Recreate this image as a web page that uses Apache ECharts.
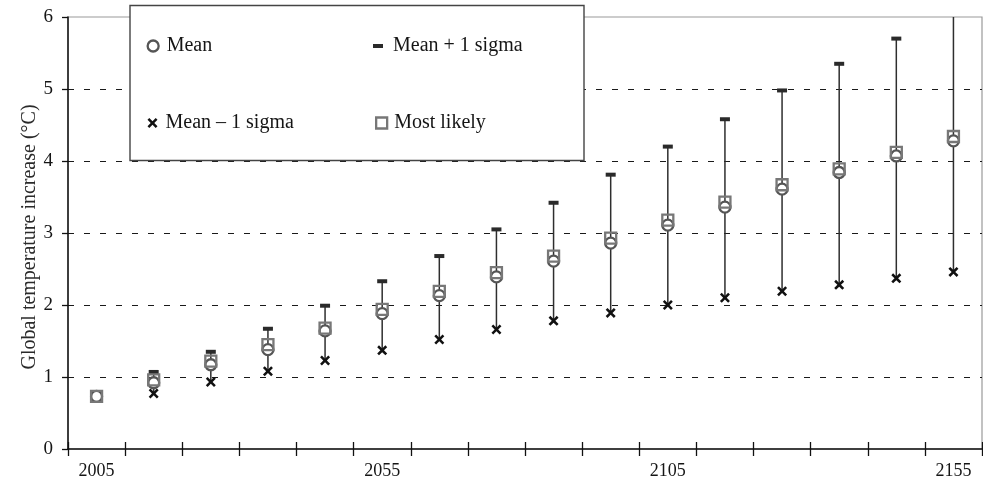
<!DOCTYPE html>
<html>
<head>
<meta charset="utf-8">
<script src="https://cdn.jsdelivr.net/npm/echarts@6/dist/echarts.min.js"></script>
<style>
html,body{margin:0;padding:0;background:#fff;}
#chart{width:983px;height:485px;}
</style>
</head>
<body>
<div id="chart"></div>
<script>
// ---- data ----
var years = ['2005','2015','2025','2035','2045','2055','2065','2075','2085','2095','2105','2115','2125','2135','2145','2155'];
var meanVals = [0.73, 0.92, 1.17, 1.38, 1.64, 1.88, 2.13, 2.39, 2.61, 2.86, 3.11, 3.36, 3.61, 3.84, 4.07, 4.28];
var plusSigma = [0.73, 1.07, 1.35, 1.67, 1.99, 2.33, 2.68, 3.05, 3.42, 3.81, 4.20, 4.58, 4.98, 5.35, 5.70, 6.07];
var minusSigma = [0.73, 0.77, 0.93, 1.08, 1.23, 1.37, 1.52, 1.66, 1.78, 1.89, 2.00, 2.10, 2.19, 2.28, 2.37, 2.46];
var mostLikely = [0.73, 0.96, 1.22, 1.45, 1.68, 1.94, 2.19, 2.45, 2.68, 2.93, 3.18, 3.43, 3.67, 3.89, 4.12, 4.34];
var yTicks = [0, 1, 2, 3, 4, 5, 6];
var yTitle = 'Global temperature increase (\u00B0C)';
var names = ['Mean', 'Mean + 1 sigma', 'Mean \u2013 1 sigma', 'Most likely'];

var FONT = '"Liberation Serif", "Times New Roman", serif';
var TXT = '#151515';
var crossPath = 'path://M0,1.8 L1.8,0 L5,3.2 L8.2,0 L10,1.8 L6.8,5 L10,8.2 L8.2,10 L5,6.8 L1.8,10 L0,8.2 L3.2,5 Z';

var rangeData = years.map(function (y, i) { return [i, minusSigma[i], plusSigma[i]]; });

function legendBox(name, left, top, w, h, icon, style, pad) {
  return {
    data: [{ name: name, icon: icon, itemStyle: style }],
    left: left, top: top, orient: 'horizontal', padding: 0,
    itemWidth: w, itemHeight: h, selectedMode: false, z: 20,
    textStyle: { fontFamily: FONT, fontSize: 20, color: TXT, padding: [0, 0, 0, pad] }
  };
}

var chart = echarts.init(document.getElementById('chart'), null, { renderer: 'canvas' });
chart.setOption({
  animation: false,
  backgroundColor: '#fff',
  grid: { left: 68, right: 1, top: 17, bottom: 36, show: true, borderColor: '#9a9a9a', borderWidth: 1.2, backgroundColor: 'transparent' },
  graphic: [{
    type: 'rect', z: 10,
    shape: { x: 130, y: 5.5, width: 454, height: 155 },
    style: { fill: '#fff', stroke: '#444', lineWidth: 1.4 }
  }],
  legend: [
    legendBox(names[0], 146.5, 36, 11, 11, 'circle', { color: '#fff', borderColor: '#555', borderWidth: 2.3 }, 3),
    legendBox(names[1], 373, 36, 10, 4, 'rect', { color: '#2a2a2a', borderWidth: 0 }, 5),
    legendBox(names[2], 147.5, 113, 10, 10, crossPath, { color: '#111', borderWidth: 0 }, 3),
    legendBox(names[3], 375, 113, 11, 11, 'rect', { color: '#fff', borderColor: '#777', borderWidth: 2.3 }, 2)
  ],
  xAxis: [{
    type: 'category', data: years, position: 'bottom', boundaryGap: true,
    axisLine: { lineStyle: { color: '#111', width: 1.5 } },
    axisTick: { show: true, interval: 0, inside: false, length: 7, lineStyle: { color: '#111', width: 1.3 } },
    axisLabel: { interval: 4, margin: 13, fontFamily: FONT, fontSize: 18, color: TXT },
    splitLine: { show: false }
  }, {
    type: 'category', data: years, position: 'bottom', boundaryGap: true,
    axisLine: { show: false },
    axisTick: { show: true, interval: 0, inside: true, length: 7, lineStyle: { color: '#111', width: 1.3 } },
    axisLabel: { show: false },
    splitLine: { show: false }
  }],
  yAxis: {
    type: 'value', min: yTicks[0], max: yTicks[yTicks.length - 1], interval: 1,
    name: yTitle, nameLocation: 'middle', nameGap: 28, nameMoveOverlap: false,
    nameTextStyle: { fontFamily: FONT, fontSize: 20, color: '#2a2a2a', padding: [0, 8, 0, 0] },
    axisLine: { show: true, lineStyle: { color: '#111', width: 1.5 } },
    axisTick: { show: true, length: 6, lineStyle: { color: '#111', width: 1.3 } },
    axisLabel: { margin: 15, fontFamily: FONT, fontSize: 19, color: TXT },
    splitLine: { show: true, showMinLine: false, showMaxLine: false, lineStyle: { color: '#1a1a1a', width: 1, type: [6, 10] } }
  },
  series: [{
    name: 'range', type: 'custom', clip: true, z: 2,
    data: rangeData, encode: { x: 0, y: [1, 2] },
    renderItem: function (params, api) {
      var lo = api.coord([api.value(0), api.value(1)]);
      var hi = api.coord([api.value(0), api.value(2)]);
      return { type: 'line', shape: { x1: lo[0], y1: lo[1], x2: hi[0], y2: hi[1] }, style: { stroke: '#2e2e2e', lineWidth: 1.5 } };
    }
  }, {
    name: names[1], type: 'scatter', clip: true, z: 3,
    data: plusSigma, symbol: 'rect', symbolSize: [10, 4],
    itemStyle: { color: '#2a2a2a', opacity: 1 }
  }, {
    name: names[2], type: 'scatter', clip: true, z: 3,
    data: minusSigma, symbol: crossPath, symbolSize: 10,
    itemStyle: { color: '#111', opacity: 1 }
  }, {
    name: names[0], type: 'scatter', clip: true, z: 4,
    data: meanVals, symbol: 'circle', symbolSize: 11,
    itemStyle: { color: '#fff', borderColor: '#555', borderWidth: 2.3, opacity: 1 }
  }, {
    name: names[3], type: 'scatter', clip: true, z: 5,
    data: mostLikely, symbol: 'rect', symbolSize: 11,
    itemStyle: { color: 'rgba(0,0,0,0)', borderColor: '#777', borderWidth: 2.3, opacity: 1 }
  }]
});
</script>
</body>
</html>
